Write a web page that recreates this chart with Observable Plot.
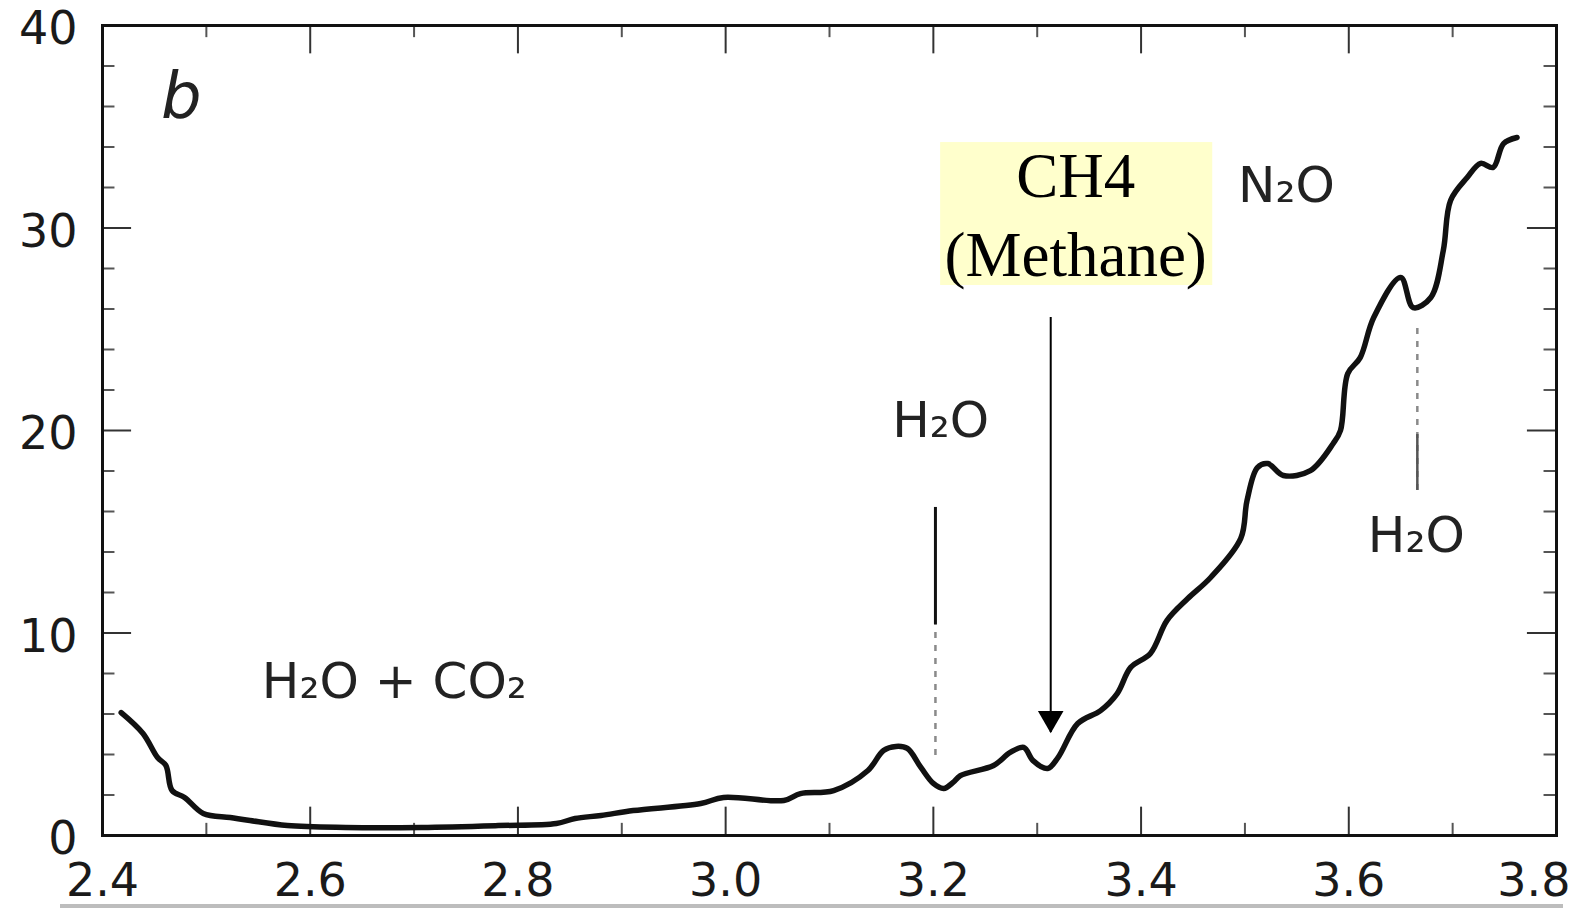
<!DOCTYPE html>
<html><head><meta charset="utf-8">
<script src="https://cdn.jsdelivr.net/npm/d3@7"></script>
<script src="https://cdn.jsdelivr.net/npm/@observablehq/plot@0.6"></script>
<style>
body{margin:0;background:#fff}
#wrap{position:relative;width:1574px;height:910px;overflow:hidden}
#rule{position:absolute;left:60px;top:904px;width:1503px;height:4px;background:#bdbdbd}
</style>
</head><body><div id="wrap"><div id="rule"></div></div>
<script>
// Transmission / absorption curve (wavelength in micrometres)
const wavelength = [2.418,2.439,2.453,2.461,2.467,2.479,2.497,2.523,2.542,2.578,2.634,2.707,2.781,2.837,2.855,2.880,2.911,2.976,2.998,3.056,3.072,3.104,3.137,3.152,3.164,3.175,3.188,3.200,3.210,3.219,3.226,3.258,3.274,3.287,3.296,3.310,3.320,3.339,3.361,3.377,3.390,3.409,3.425,3.445,3.467,3.496,3.502,3.512,3.522,3.537,3.563,3.585,3.592,3.599,3.611,3.624,3.650,3.662,3.679,3.691,3.698,3.714,3.727,3.739,3.749,3.762];
const absorption = [6.07,5.04,3.85,3.46,2.22,1.88,1.09,0.89,0.74,0.49,0.40,0.40,0.49,0.59,0.84,0.99,1.23,1.58,1.88,1.73,2.07,2.22,3.21,4.20,4.40,4.30,3.36,2.57,2.32,2.62,2.96,3.46,4.10,4.35,3.70,3.31,3.85,5.53,6.17,7.01,8.30,8.99,10.62,11.70,12.74,14.67,16.54,18.17,18.37,17.78,18.02,19.36,20.00,22.81,23.60,25.58,27.56,26.07,26.57,28.89,31.36,32.49,33.19,32.99,34.17,34.47];

const xTickValues = [2.4,2.6,2.8,3.0,3.2,3.4,3.6,3.8];
const xTickLabels = ["2.4","2.6","2.8","3.0","3.2","3.4","3.6","3.8"];
const xMinor = [2.5,2.7,2.9,3.1,3.3,3.5,3.7];
const yTickValues = [0,10,20,30,40];
const yTickLabels = ["0","10","20","30","40"];
const yMinor = [2,4,6,8,12,14,16,18,22,24,26,28,32,34,36,38];

// Gas labels
const gasLabels = ["H₂O + CO₂","H₂O","N₂O","H₂O"];
const gasX = [2.681,3.207,3.540,3.665];
const gasY = [7.6,20.49,32.05,14.77];

// Panel letter
const panelLabel = ["b"];
const panelX = [2.476];
const panelY = [36.44];

// Methane highlight
const ch4Lines = ["CH4","(Methane)"];
const ch4X = [3.337,3.337];
const ch4Y = [32.52,28.64];
const ch4Box = [{x1:3.207,x2:3.469,y1:27.16,y2:34.22}];
const ch4Arrow = [{x:3.313,top:25.58,tip:5.09}];

// Marker lines for water bands
const h2oSolid = [{x:3.202,y1:10.4,y2:16.2}];
const h2oDashed = [{x:3.202,y1:3.95,y2:10.4},{x:3.666,y1:17.04,y2:25.28}];
const h2oDark = [{x:3.666,y1:17.04,y2:19.8}];

const data = wavelength.map((w,i)=>({w, a:absorption[i]}));
const idx = a => a.map((_,i)=>i);
const lastX = xTickValues.length - 1;

const chart = Plot.plot({
  width:1574, height:910,
  marginLeft:102, marginRight:18, marginTop:25, marginBottom:75,
  x:{domain:[2.4,3.8]},
  y:{domain:[0,40]},
  style:{fontFamily:"DejaVu Sans", background:"transparent", overflow:"visible"},
  marks:[
    Plot.rect(ch4Box,{x1:"x1",x2:"x2",y1:"y1",y2:"y2",fill:"#ffffcc"}),
    // inward ticks
    Plot.ruleX(xTickValues.slice(1,-1),{y1:0,y2:1.4,stroke:"#333",strokeWidth:2}),
    Plot.ruleX(xMinor,{y1:0,y2:0.6,stroke:"#555",strokeWidth:2}),
    Plot.ruleX(xTickValues.slice(1,-1),{y1:40,y2:38.6,stroke:"#333",strokeWidth:2}),
    Plot.ruleX(xMinor,{y1:40,y2:39.4,stroke:"#555",strokeWidth:2}),
    Plot.ruleY(yTickValues.slice(1,-1),{x1:2.4,x2:2.428,stroke:"#333",strokeWidth:2}),
    Plot.ruleY(yMinor,{x1:2.4,x2:2.412,stroke:"#555",strokeWidth:2}),
    Plot.ruleY(yTickValues.slice(1,-1),{x1:3.8,x2:3.772,stroke:"#333",strokeWidth:2}),
    Plot.ruleY(yMinor,{x1:3.8,x2:3.788,stroke:"#555",strokeWidth:2}),
    Plot.frame({stroke:"#111",strokeWidth:3}),
    Plot.axisX(xTickValues.slice(0,lastX),{tickSize:0,tickPadding:28,fontSize:46,fill:"#1a1a1a",
      tickFormat:d=>xTickLabels[xTickValues.indexOf(d)]}),
    Plot.text([lastX],{x:i=>xTickValues[i],text:i=>xTickLabels[i],frameAnchor:"bottom",
      lineAnchor:"top",textAnchor:"end",dx:14,dy:28,fontSize:46,fill:"#1a1a1a"}),
    Plot.axisY(yTickValues,{tickSize:0,tickPadding:25,dy:4,fontSize:46,fill:"#1a1a1a",
      tickFormat:d=>yTickLabels[yTickValues.indexOf(d)]}),
    // water band markers
    Plot.ruleX(h2oDashed,{x:"x",y1:"y1",y2:"y2",stroke:"#8a8a8a",strokeWidth:2.5,strokeDasharray:"6,7"}),
    Plot.ruleX(h2oDark,{x:"x",y1:"y1",y2:"y2",stroke:"#555",strokeWidth:2.5}),
    Plot.ruleX(h2oSolid,{x:"x",y1:"y1",y2:"y2",stroke:"#111",strokeWidth:3}),
    // curve
    Plot.line(data,{x:"w",y:"a",curve:"catmull-rom",stroke:"#111",strokeWidth:5.5,strokeLinejoin:"round",strokeLinecap:"round"}),
    // methane arrow
    Plot.ruleX(ch4Arrow,{x:"x",y1:"tip",y2:"top",stroke:"#000",strokeWidth:2}),
    Plot.dot(ch4Arrow,{x:"x",y:"tip",symbol:"triangle",rotate:180,r:9.5,dy:-14,fill:"#000",stroke:"none"}),
    // labels
    Plot.text(idx(gasLabels),{x:i=>gasX[i],y:i=>gasY[i],text:i=>gasLabels[i],fontSize:50,fill:"#222",fontFamily:"DejaVu Sans"}),
    Plot.text(idx(panelLabel),{x:i=>panelX[i],y:i=>panelY[i],text:i=>panelLabel[i],fontSize:64,fontStyle:"italic",fill:"#222",fontFamily:"DejaVu Sans"}),
    Plot.text(idx(ch4Lines),{x:i=>ch4X[i],y:i=>ch4Y[i],text:i=>ch4Lines[i],fontSize:63,fill:"#000",fontFamily:"Liberation Serif"})
  ]
});
document.getElementById("wrap").appendChild(chart);
</script>
</body></html>
